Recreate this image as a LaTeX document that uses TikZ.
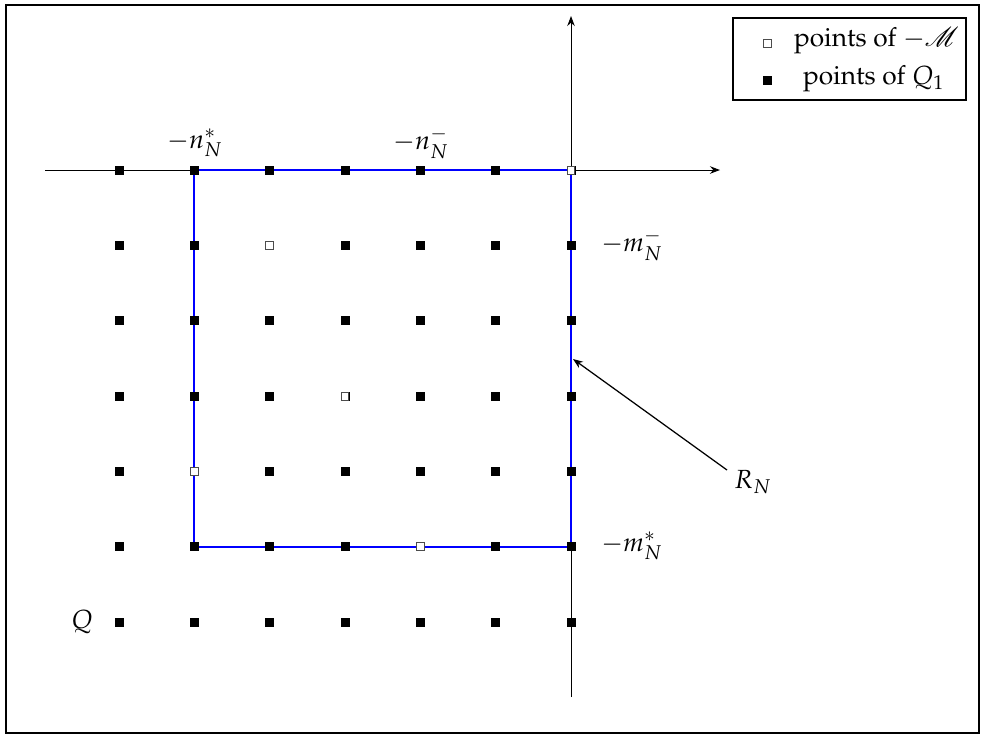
\documentclass[tikz,border=0pt]{standalone}
\usepackage[T1]{fontenc}
\usepackage{mathpazo}
\usepackage{mathrsfs}
\usetikzlibrary{arrows.meta}
\begin{document}
\begin{tikzpicture}[x=0.4pt,y=-0.4pt,
  fullpt/.style={draw=black,fill=black,minimum size=3.2pt,inner sep=0pt,outer sep=0pt,line width=0.2pt},
  hollowpt/.style={draw=black!70,fill=white,minimum size=3.1pt,inner sep=0pt,outer sep=0pt,line width=0.3pt},
  axis/.style={line width=0.4pt,-{Stealth[length=4pt,width=3pt]}},
  rect/.style={blue,line width=0.9pt},
  lbl/.style={inner sep=1pt,font=\fontsize{10.5}{12}\selectfont}]
\useasboundingbox (0,0) rectangle (984,736);
\draw[line width=0.9pt] (6,5) rectangle (979,733);
% axes
\coordinate (xs) at (45,170);
\coordinate (xe) at (720,170);
\coordinate (ys) at (571,697);
\coordinate (ye) at (571,16);
\draw[axis] (xs) -- (xe);
\draw[axis] (ys) -- (ye);
% grid coordinates
\foreach \i in {0,...,6}{
  \foreach \j in {0,...,6}{
    \coordinate (c-\i-\j) at ({119+75.33*\i},{170+75.33*\j});
  }
}
% blue rectangle
\draw[rect] (c-1-0) rectangle (c-6-5);
% points
\foreach \i in {0,...,6}{
  \foreach \j in {0,...,6}{
    \node[fullpt] (p-\i-\j) at (c-\i-\j) {};
  }
}
\foreach \i/\j in {6/0,2/1,3/3,1/4,4/5}{
  \node[hollowpt] (h-\i-\j) at (c-\i-\j) {};
}
% labels
\node[lbl] (ln1) at (195,143) {$-n_N^*$};
\node[lbl] (ln2) at (421,143) {$-n_N^-$};
\node[lbl] (lm1) at (632,245) {$-m_N^-$};
\node[lbl] (lm2) at (632,546) {$-m_N^*$};
\node[lbl] (lq) at (82,622) {$Q$};
\node[lbl] (lr) at (753,482) {$R_N$};
\coordinate (rt) at (727,470);
\coordinate (rh) at (573,359);
\draw[line width=0.5pt,-{Stealth[length=4pt,width=3pt]}] (rt) -- (rh);
% legend
\draw[line width=0.6pt] (733,18) rectangle (966,100);
\node[hollowpt] (lg1) at (767,43) {};
\node[fullpt] (lg2) at (767,80) {};
\node[lbl,anchor=west] (lt1) at (791,41) {points of $-\mathscr{M}$};
\node[lbl,anchor=west] (lt2) at (800,79) {points of $Q_1$};
\end{tikzpicture}
\end{document}
